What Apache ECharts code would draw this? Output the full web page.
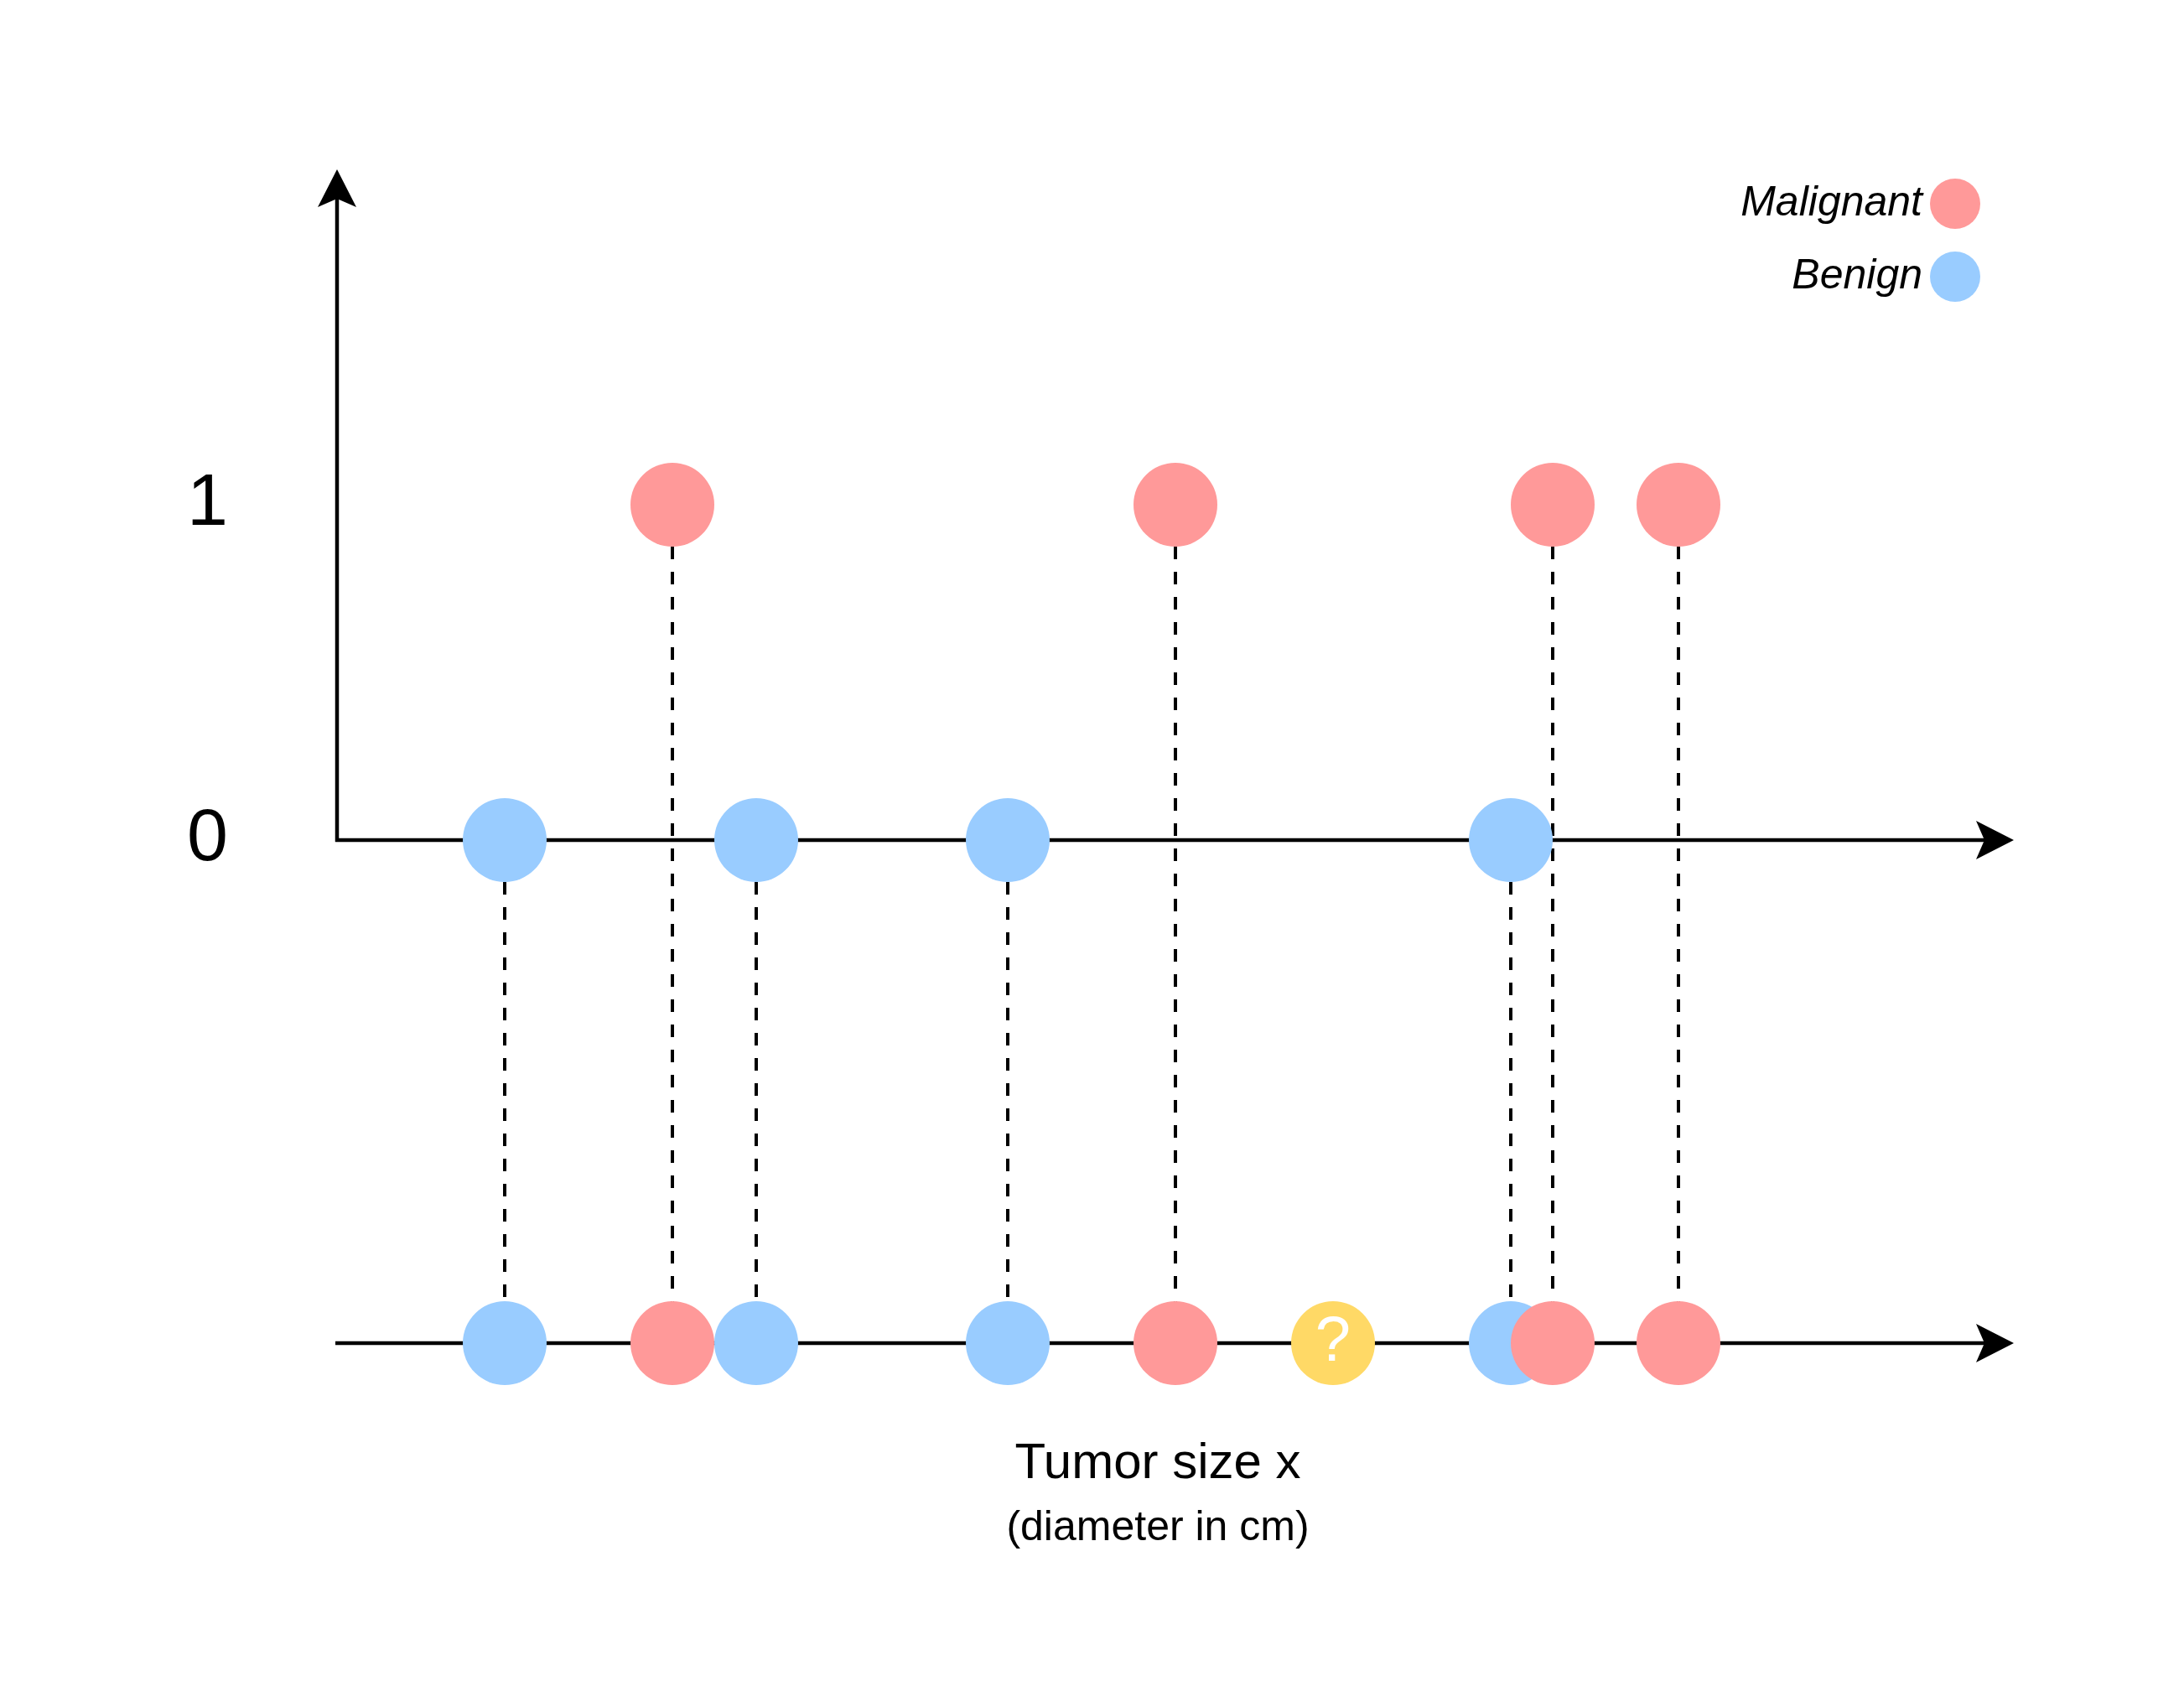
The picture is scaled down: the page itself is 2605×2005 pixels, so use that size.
<!DOCTYPE html>
<html>
<head>
<meta charset="utf-8">
<script src="https://cdn.jsdelivr.net/npm/echarts@6/dist/echarts.min.js"></script>
<style>
html,body{margin:0;padding:0;background:#fff;}
#chart{width:2605px;height:2005px;}
</style>
</head>
<body>
<div id="chart"></div>
<script>
// ---- data ----
const malignantX = [2, 5, 7.25, 8];
const benignX = [1, 2.5, 4, 7];
const unknownX = [5.94];
const malignantY = 1;
const benignY = 0;
const projectionY = -1.5;
const yTickLabels = [0, 1];
const xRange = [0, 10];
const yRange = [-1.5, 2];

const FONT = '"Liberation Sans", Arial, Helvetica, sans-serif';
const RED = '#FF9999', BLUE = '#99CCFF', YELLOW = '#FFD966';

// axis arrows: [x0, y0, x1, y1]
const axesData = [
  [xRange[0], benignY, xRange[0], yRange[1]],
  [xRange[0], benignY, xRange[1], benignY],
  [xRange[0], projectionY, xRange[1], projectionY]
];

// dashed projection lines: [x, yTop, yBottom]
const dashData = []
  .concat(benignX.map(x => [x, benignY, projectionY]))
  .concat(malignantX.map(x => [x, malignantY, projectionY]));

const malignantData = malignantX.map(x => [x, malignantY]).concat(malignantX.map(x => [x, projectionY]));
const benignData = benignX.map(x => [x, benignY]).concat(benignX.map(x => [x, projectionY]));
const unknownData = unknownX.map(x => [x, projectionY]);

const chart = echarts.init(document.getElementById('chart'), null, {renderer: 'canvas'});

const option = {
  backgroundColor: '#ffffff',
  animation: false,
  textStyle: {fontFamily: FONT},
  title: [
    {
      text: 'Tumor size x',
      left: 1376, top: 1711, textAlign: 'center',
      textStyle: {fontSize: 60, fontWeight: 'normal', color: '#000', fontFamily: FONT}
    },
    {
      text: '(diameter in cm)',
      left: 1376, top: 1793, textAlign: 'center',
      textStyle: {fontSize: 50, fontWeight: 'normal', color: '#000', fontFamily: FONT}
    }
  ],
  legend: {
    data: ['Malignant', 'Benign'],
    orient: 'vertical',
    right: 238, top: 208,
    itemWidth: 60, itemHeight: 60, itemGap: 27,
    align: 'right',
    icon: 'circle',
    selectedMode: false,
    textStyle: {fontSize: 50, fontStyle: 'italic', color: '#000', fontFamily: FONT, padding: [14, 4, 0, 0]}
  },
  grid: {left: 402, top: 202, width: 2000, height: 1400, containLabel: false},
  xAxis: {
    type: 'value', min: xRange[0], max: xRange[1],
    axisLine: {show: false}, axisTick: {show: false}, axisLabel: {show: false}, splitLine: {show: false}
  },
  yAxis: {
    type: 'value', min: yRange[0], max: yRange[1], interval: 0.5,
    axisLine: {show: false}, axisTick: {show: false}, splitLine: {show: false},
    axisLabel: {
      show: true, margin: 130, fontSize: 88, color: '#000', fontFamily: FONT,
      formatter: v => (yTickLabels.indexOf(v) >= 0 ? String(v) : '')
    }
  },
  series: [
    {
      type: 'custom', name: 'axes', z: 1, silent: true,
      data: axesData,
      renderItem: function (params, api) {
        const p0 = api.coord([api.value(0), api.value(1)]);
        const p1 = api.coord([api.value(2), api.value(3)]);
        const dx = p1[0] - p0[0], dy = p1[1] - p0[1];
        const len = Math.sqrt(dx * dx + dy * dy);
        const ux = dx / len, uy = dy / len;
        const nx = -uy, ny = ux;
        const L = 45, N = 35, W = 23;
        const back = [p1[0] - ux * L, p1[1] - uy * L];
        const notch = [p1[0] - ux * N, p1[1] - uy * N];
        return {
          type: 'group',
          children: [
            {type: 'line', shape: {x1: p0[0] - ux * 2, y1: p0[1] - uy * 2, x2: notch[0], y2: notch[1]},
             style: {stroke: '#000', lineWidth: 4.5}},
            {type: 'polygon', shape: {points: [p1, [back[0] + nx * W, back[1] + ny * W], notch, [back[0] - nx * W, back[1] - ny * W]]},
             style: {fill: '#000'}}
          ]
        };
      }
    },
    {
      type: 'custom', name: 'dashes', z: 2, silent: true,
      data: dashData,
      renderItem: function (params, api) {
        const a = api.coord([api.value(0), api.value(1)]);
        const b = api.coord([api.value(0), api.value(2)]);
        return {
          type: 'line',
          shape: {x1: a[0], y1: a[1], x2: b[0], y2: b[1]},
          style: {stroke: '#000', lineWidth: 4, lineDash: [15, 15], lineDashOffset: 10}
        };
      }
    },
    {
      type: 'scatter', name: 'Benign', z: 3, symbol: 'circle', symbolSize: 100,
      itemStyle: {color: BLUE, opacity: 1},
      data: benignData
    },
    {
      type: 'scatter', name: 'Malignant', z: 4, symbol: 'circle', symbolSize: 100,
      itemStyle: {color: RED, opacity: 1},
      data: malignantData
    },
    {
      type: 'scatter', name: 'Unknown', z: 4, symbol: 'circle', symbolSize: 100,
      itemStyle: {color: YELLOW, opacity: 1},
      label: {show: true, position: 'inside', formatter: '?', color: '#fff', fontSize: 76, fontFamily: FONT},
      data: unknownData
    }
  ]
};
chart.setOption(option);
</script>
</body>
</html>
